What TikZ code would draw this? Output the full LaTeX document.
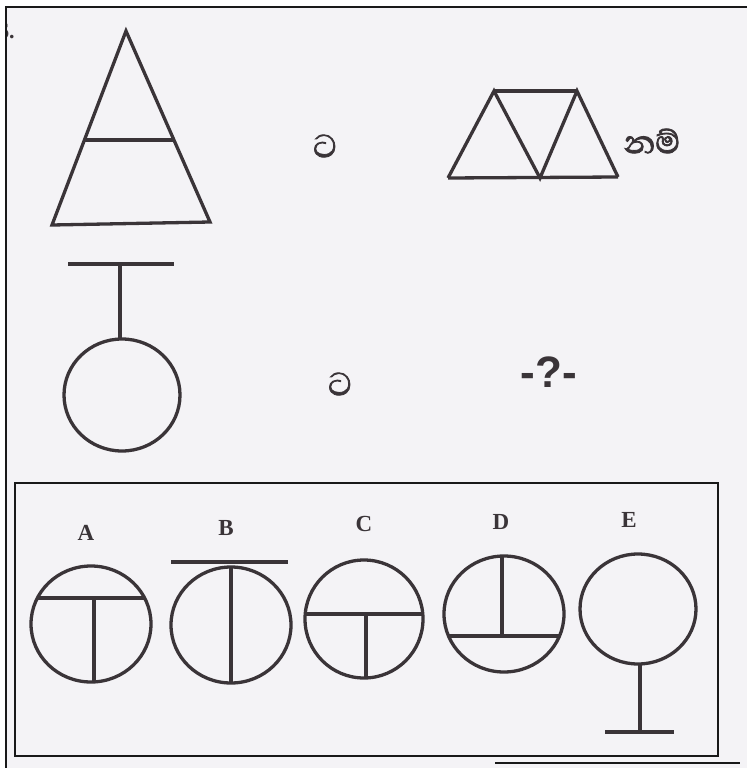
\documentclass[tikz,border=0pt]{standalone}
\usepackage{fontspec}
\setmainfont{Liberation Serif}
\newfontfamily\sinhfont[Script=Sinhala, FakeBold=2]{Abhaya Libre}
\newfontfamily\sansfont{Liberation Sans}
\definecolor{ink}{RGB}{58,52,56}
\definecolor{paper}{RGB}{244,243,246}
\definecolor{framec}{RGB}{25,25,25}
\begin{document}
\begin{tikzpicture}[x=1pt,y=-1pt,
  fig/.style={line width=3.3pt, draw=ink, line join=miter},
  boxline/.style={line width=1.4pt, draw=framec},
  sinh/.style={text=ink, font=\sinhfont\fontsize{41}{41}\selectfont, inner sep=0pt},
  optlabel/.style={text=ink, font=\bfseries\fontsize{23}{23}\selectfont, inner sep=0pt}]
\useasboundingbox (0,0) rectangle (747,768);
\fill[white] (0,0) rectangle (747,768);
\fill[paper] (6,7) rectangle (747,768);
\draw[boxline] (6,768) -- (6,7) -- (747,7);
% question number, cut at the page edge
\begin{scope}
\clip (7,8) rectangle (60,60);
\node[anchor=base west, inner sep=0pt, text=ink, font=\bfseries\fontsize{22}{22}\selectfont] (num) at (-2,38) {6.};
\end{scope}
% first pair
\coordinate (t1) at (126,31);
\coordinate (t2) at (52,225);
\coordinate (t3) at (210,222);
\draw[fig] (t1) -- (t2) -- (t3) -- cycle;
\draw[fig] (84.5,140) -- (174,140);
\node[sinh] (w1) at (325,146) {ට};
% trapezium of triangles
\coordinate (p1) at (494,91);
\coordinate (p2) at (577,91);
\coordinate (p3) at (448,178);
\coordinate (p4) at (540,178);
\coordinate (p5) at (618,177);
\draw[fig] (p1) -- (p2);
\draw[fig] (p3) -- (p5);
\draw[fig] (p3) -- (p1) -- (p4) -- (p2) -- (p5);
\node[sinh] (w2) at (652,141) {නම්};
% second pair
\draw[fig] (68,264) -- (174,264);
\draw[fig] (120,264) -- (120,339);
\draw[fig] (122,395) ellipse [x radius=58, y radius=56];
\node[sinh] (w3) at (340,384) {ට};
\node[text=ink, inner sep=0pt, font=\sansfont\bfseries\fontsize{44}{44}\selectfont] (q) at (549,372) {-?-};
% answer box
\draw[boxline] (15,483) rectangle (718,756);
\draw[boxline] (495,763) -- (740,763);
\node[optlabel] (la) at (86,533) {A};
\node[optlabel] (lb) at (226,528) {B};
\node[optlabel] (lc) at (364,524) {C};
\node[optlabel] (ld) at (501,522) {D};
\node[optlabel] (le) at (629,520) {E};
% A
\begin{scope}
\clip (91,624) ellipse [x radius=60, y radius=58];
\draw[fig] (20,598) -- (160,598);
\draw[fig] (94,598) -- (94,700);
\end{scope}
\draw[fig] (91,624) ellipse [x radius=60, y radius=58];
% B
\begin{scope}
\clip (231,625) ellipse [x radius=60, y radius=58];
\draw[fig] (231,560) -- (231,700);
\end{scope}
\draw[fig] (231,625) ellipse [x radius=60, y radius=58];
\draw[fig] (171,562) -- (288,562);
% C
\begin{scope}
\clip (364,619) ellipse [x radius=59, y radius=59];
\draw[fig] (290,614) -- (440,614);
\draw[fig] (366,614) -- (366,700);
\end{scope}
\draw[fig] (364,619) ellipse [x radius=59, y radius=59];
% D
\begin{scope}
\clip (504,614) ellipse [x radius=60, y radius=58];
\draw[fig] (430,636) -- (580,636);
\draw[fig] (502,540) -- (502,636);
\end{scope}
\draw[fig] (504,614) ellipse [x radius=60, y radius=58];
% E
\draw[fig] (638,609) ellipse [x radius=58, y radius=55];
\draw[fig] (640,664) -- (640,732);
\draw[fig] (605,732) -- (674,732);
\end{tikzpicture}
\end{document}
